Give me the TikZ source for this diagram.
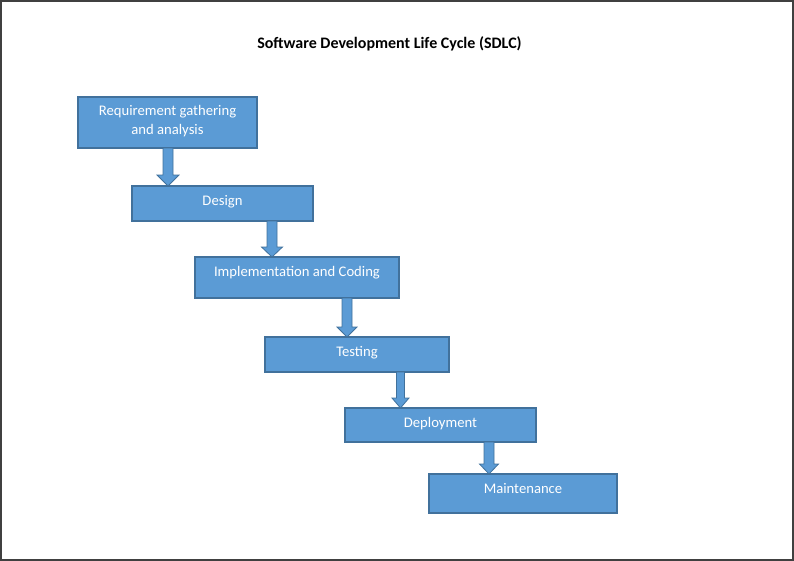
\documentclass[tikz,border=0pt]{standalone}
\usepackage{fontspec}
\setmainfont{Carlito}
\usetikzlibrary{calc}
\definecolor{boxfill}{HTML}{5B9BD5}
\definecolor{boxline}{HTML}{41719C}
\definecolor{framecol}{HTML}{404040}
\tikzset{
  px/.style={x=0.75pt,y=-0.75pt},
  stage/.style={draw=boxline,fill=boxfill,line width=0.9pt,inner sep=0pt,outer sep=0pt,anchor=north west},
  stagetext/.style={text=white,font=\fontsize{11pt}{14.25pt}\selectfont,align=center,anchor=mid,inner sep=0pt},
  blockarrow/.style={draw=boxline,fill=boxfill,line width=0.6pt,line join=miter},
  titlestyle/.style={font=\bfseries\fontsize{12pt}{14pt}\selectfont,text=black,anchor=mid}
}
% #1 = centre x (px), #2 = source node, #3 = target node, #4 shaft half width px, #5 head half width px, #6 head length px
\newcommand\sdlcarrow[6]{%
  \path[blockarrow] let \p1=(#2.south), \p2=(#3.north) in
    ({(#1-#4)*0.75pt},\y1) -- ({(#1+#4)*0.75pt},\y1) -- ({(#1+#4)*0.75pt},\y2+#6*0.75pt)
    -- ({(#1+#5)*0.75pt},\y2+#6*0.75pt) -- ({#1*0.75pt},\y2) -- ({(#1-#5)*0.75pt},\y2+#6*0.75pt)
    -- ({(#1-#4)*0.75pt},\y2+#6*0.75pt) -- cycle;
}
% #1 name, #2 x, #3 y, #4 w, #5 h (px)
\newcommand\stagebox[5]{%
  \node[stage,minimum width={#4*0.75pt},minimum height={#5*0.75pt}] (#1) at (#2,#3) {};
}
\begin{document}
\begin{tikzpicture}[px]
\useasboundingbox (0,0) rectangle (794,561);
\draw[framecol,line width=1.5pt] (1,1) rectangle (793,560);
\node[titlestyle] (title) at (389.5,45) {Software Development Life Cycle (SDLC)};
% boxes
\stagebox{req}{78}{97}{179}{51}
\stagebox{des}{132}{186}{181}{35}
\stagebox{imp}{195}{257}{204}{41}
\stagebox{tst}{265}{337}{184}{35}
\stagebox{dep}{345}{408}{191}{34}
\stagebox{mnt}{429}{474}{188}{39}
% texts
\node[stagetext,anchor=center] (reqt) at ($(req.north)+(0,24)$) {Requirement gathering\\and analysis};
\node[stagetext] (dest) at ($(des.north)+(0,16)$) {Design};
\node[stagetext] (impt) at ($(imp.north)+(0,16)$) {Implementation and Coding};
\node[stagetext] (tstt) at ($(tst.north)+(0,16)$) {Testing};
\node[stagetext] (dept) at ($(dep.north)+(0,16)$) {Deployment};
\node[stagetext] (mntt) at ($(mnt.north)+(0,16)$) {Maintenance};
% arrows
\sdlcarrow{168}{req}{des}{5}{11}{11}
\sdlcarrow{272}{des}{imp}{5}{10.5}{10}
\sdlcarrow{347}{imp}{tst}{5}{10}{10}
\sdlcarrow{400.5}{tst}{dep}{4}{8.5}{10}
\sdlcarrow{489}{dep}{mnt}{5}{9.5}{10}
\end{tikzpicture}
\end{document}
